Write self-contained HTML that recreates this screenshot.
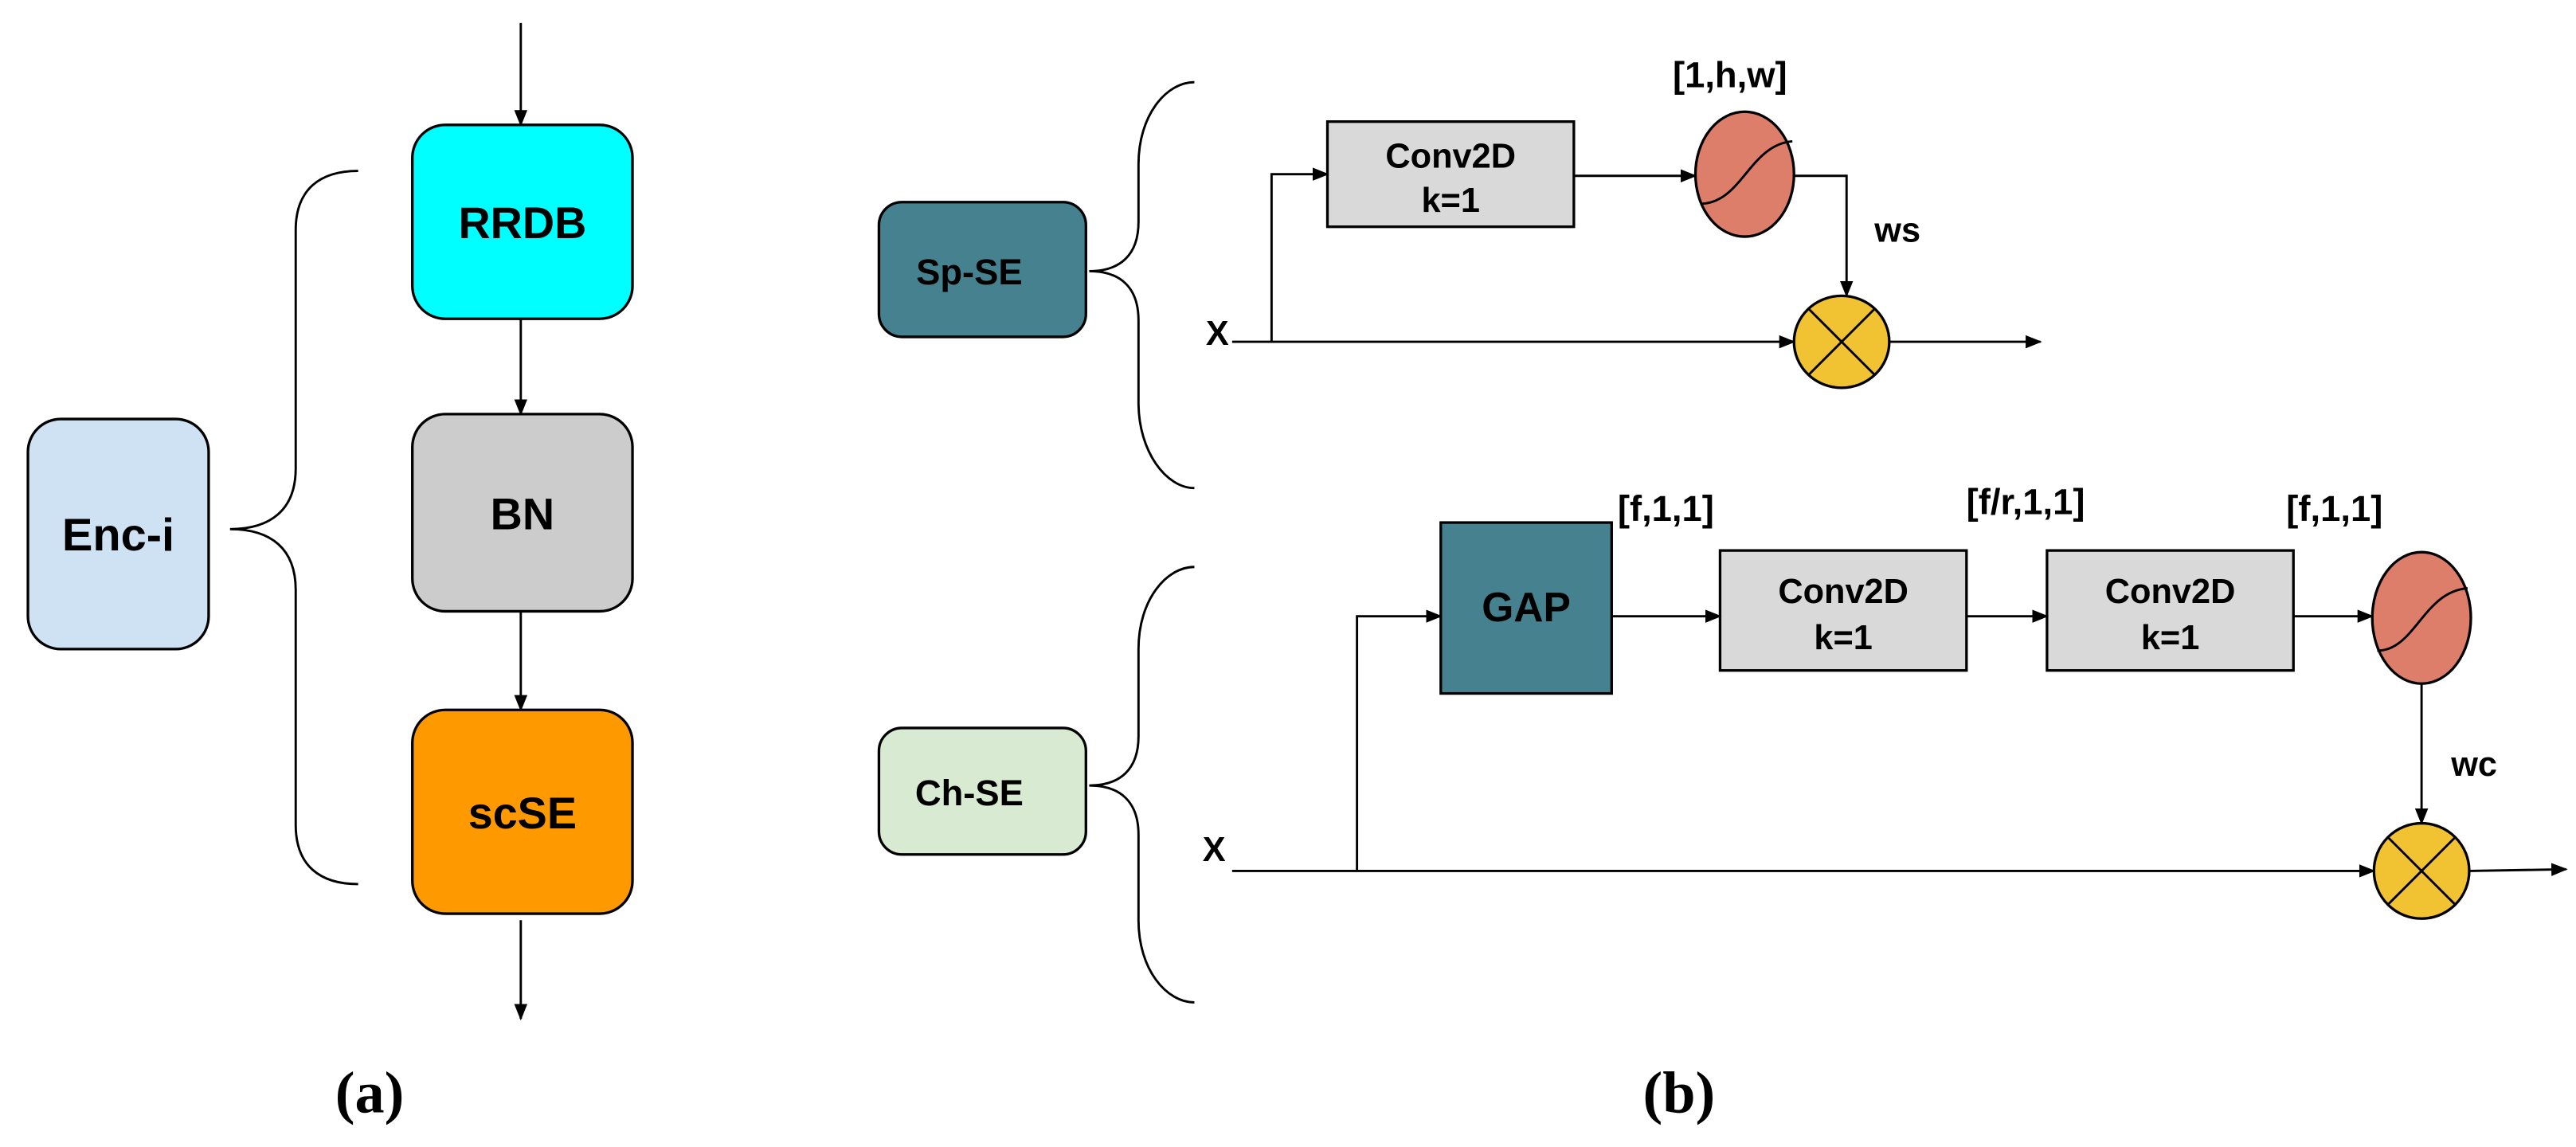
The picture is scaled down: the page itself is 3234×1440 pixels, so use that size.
<!DOCTYPE html>
<html><head><meta charset="utf-8"><style>
html,body{margin:0;padding:0;background:#fff}
svg{display:block}
text{font-family:"Liberation Sans",Arial,sans-serif;font-weight:bold;fill:#000}
</style></head><body>
<svg width="3234" height="1440" viewBox="0 0 1568 698" preserveAspectRatio="none" xmlns="http://www.w3.org/2000/svg">
<defs>
<marker id="a" markerWidth="10" markerHeight="8" refX="9" refY="4" orient="auto" markerUnits="userSpaceOnUse"><path d="M0,0 L10,4 L0,8 Z" fill="#000"/></marker>
</defs>
<g stroke="#000" stroke-width="1.4" fill="none">
<line x1="317" y1="14" x2="317" y2="76" marker-end="url(#a)"/>
<line x1="317" y1="194" x2="317" y2="252" marker-end="url(#a)"/>
<line x1="317" y1="372" x2="317" y2="432" marker-end="url(#a)"/>
<line x1="317" y1="560" x2="317" y2="620" marker-end="url(#a)"/>
<path d="M218,104 C195,104 180,115 180,140 L180,285 C180,310 165,322 140,322 C165,322 180,334 180,359 L180,502 C180,527 195,538 218,538"/>
<path d="M727,50 C710,50 693,70 693,100 L693,135 C693,155 682,165 663,165 C682,165 693,175 693,195 L693,245 C693,275 710,297 727,297"/>
<path d="M727,345 C710,345 693,365 693,395 L693,448 C693,468 682,478 663,478 C682,478 693,488 693,508 L693,560 C693,590 710,610 727,610"/>
</g>
<g stroke="#000" stroke-width="1.6">
<rect x="251" y="76" width="134" height="118" rx="20" fill="#00FFFF"/>
<rect x="251" y="252" width="134" height="120" rx="20" fill="#CCCCCC"/>
<rect x="251" y="432" width="134" height="124" rx="20" fill="#FF9900"/>
<rect x="17" y="255" width="110" height="140" rx="20" fill="#CFE2F3"/>
<rect x="535" y="123" width="126" height="82" rx="14" fill="#45818E"/>
<rect x="535" y="443" width="126" height="77" rx="14" fill="#D9EAD3"/>
<rect x="808" y="74" width="150" height="64" fill="#D9D9D9"/>
<rect x="877" y="318" width="104" height="104" fill="#45818E"/>
<rect x="1047" y="335" width="150" height="73" fill="#D9D9D9"/>
<rect x="1246" y="335" width="150" height="73" fill="#D9D9D9"/>
<ellipse cx="1062" cy="106" rx="30" ry="38" fill="#DD7E6B"/>
<ellipse cx="1474" cy="376" rx="30" ry="40" fill="#DD7E6B"/>
<ellipse cx="1121" cy="208" rx="29" ry="28" fill="#F1C232"/>
<ellipse cx="1474" cy="530" rx="29" ry="29" fill="#F1C232"/>
</g>
<g stroke="#000" stroke-width="1.4" fill="none">
<path d="M1035,124 C1060,124 1065,88 1091,86"/>
<path d="M1447,396 C1470,396 1475,360 1502,358"/>
<line x1="1101" y1="188" x2="1141" y2="228"/><line x1="1141" y1="188" x2="1101" y2="228"/>
<line x1="1454" y1="510" x2="1494" y2="550"/><line x1="1494" y1="510" x2="1454" y2="550"/>
<line x1="750" y1="208" x2="1092" y2="208" marker-end="url(#a)"/>
<polyline points="774,208 774,106 808,106" marker-end="url(#a)"/>
<line x1="958" y1="107" x2="1032" y2="107" marker-end="url(#a)"/>
<polyline points="1092,107 1124,107 1124,180" marker-end="url(#a)"/>
<line x1="1150" y1="208" x2="1242" y2="208" marker-end="url(#a)"/>
<line x1="750" y1="530" x2="1445" y2="530" marker-end="url(#a)"/>
<polyline points="826,530 826,375 877,375" marker-end="url(#a)"/>
<line x1="981" y1="375" x2="1047" y2="375" marker-end="url(#a)"/>
<line x1="1197" y1="375" x2="1246" y2="375" marker-end="url(#a)"/>
<line x1="1396" y1="375" x2="1444" y2="375" marker-end="url(#a)"/>
<line x1="1474" y1="416" x2="1474" y2="501" marker-end="url(#a)"/>
<line x1="1503" y1="530" x2="1562" y2="529" marker-end="url(#a)"/>
</g>
<g text-anchor="middle">
<text x="318" y="145" font-size="27">RRDB</text>
<text x="318" y="322" font-size="27">BN</text>
<text x="318" y="504" font-size="27">scSE</text>
<text x="72" y="335" font-size="28">Enc-i</text>
<text x="590" y="173" font-size="22">Sp-SE</text>
<text x="590" y="490" font-size="22">Ch-SE</text>
<text x="883" y="102" font-size="21">Conv2D</text>
<text x="883" y="129" font-size="21">k=1</text>
<text x="929" y="378" font-size="25">GAP</text>
<text x="1122" y="367" font-size="21">Conv2D</text>
<text x="1122" y="395" font-size="21">k=1</text>
<text x="1321" y="367" font-size="21">Conv2D</text>
<text x="1321" y="395" font-size="21">k=1</text>
<text x="1053" y="53" font-size="22">[1,h,w]</text>
<text x="1014" y="317" font-size="22">[f,1,1]</text>
<text x="1233" y="313" font-size="22">[f/r,1,1]</text>
<text x="1421" y="317" font-size="22">[f,1,1]</text>
<text x="1155" y="147" font-size="21">ws</text>
<text x="1506" y="472" font-size="21">wc</text>
<text x="741" y="210" font-size="21">X</text>
<text x="739" y="524" font-size="21">X</text>
<text x="225" y="677" font-size="36" style="font-family:'Liberation Serif',serif;font-weight:bold">(a)</text>
<text x="1022" y="677" font-size="36" style="font-family:'Liberation Serif',serif;font-weight:bold">(b)</text>
</g>
</svg>
</body></html>
